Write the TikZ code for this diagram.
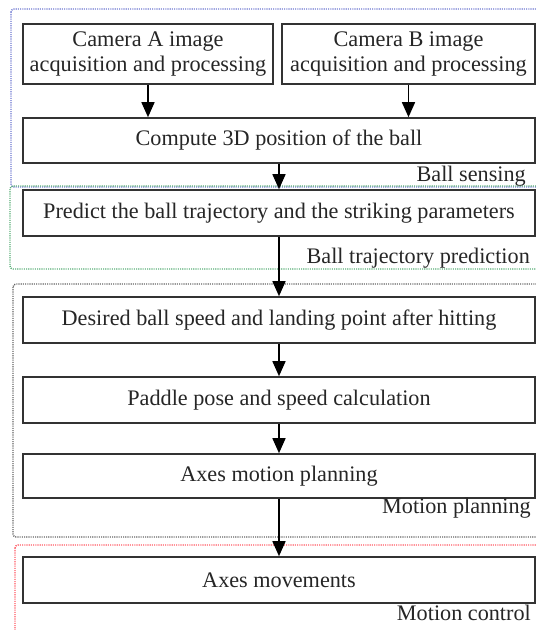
\documentclass[tikz,border=0pt]{standalone}
\usepackage{fontspec}
\setmainfont{Liberation Serif}
\usetikzlibrary{arrows.meta}
\definecolor{fblue}{RGB}{110,120,210}
\definecolor{fgreen}{RGB}{90,175,120}
\definecolor{fgray}{RGB}{100,100,100}
\definecolor{fred}{RGB}{255,90,100}
\begin{document}
\begin{tikzpicture}[x=1pt,y=-1pt,
  box/.style={draw=black!80,line width=1.6pt,fill=white,inner sep=0pt,align=center,
    font=\fontsize{22.2}{26}\selectfont,text=black!85},
  cam/.style={box,font=\fontsize{22.3}{25.5}\selectfont},
  arr/.style={draw=black,line width=1.5pt,-{Triangle[length=15pt,width=13pt]}},
  frame/.style={line width=1.4pt,dash pattern=on 1.1pt off 1.1pt,rounded corners=3pt},
  lbl/.style={anchor=base east,inner sep=0pt,font=\fontsize{22.2}{26}\selectfont,text=black!85}]
\useasboundingbox (0,0) rectangle (536,630);
\clip (0,0) rectangle (536,630);
\fill[white] (0,0) rectangle (536,630);
% frames
\draw[frame,fblue] (11,9) rectangle (560,187);
\draw[frame,fgreen] (10,186) rectangle (560,269);
\draw[frame,fgray] (13,284) rectangle (560,537);
\draw[frame,fred] (15,545) rectangle (560,660);
% boxes
\node[cam,minimum width=250,minimum height=60] (camA) at (148,54) {Camera A image\\acquisition and processing};
\node[cam,minimum width=253,minimum height=60] (camB) at (408.5,54) {Camera B image\\acquisition and processing};
\node[box,minimum width=512,minimum height=45] (comp) at (279,140.5) {Compute 3D position of the ball};
\node[box,minimum width=512,minimum height=46] (pred) at (279,213) {Predict the ball trajectory and the striking parameters};
\node[box,minimum width=512,minimum height=46] (des) at (279,320) {Desired ball speed and landing point after hitting};
\node[box,minimum width=512,minimum height=46] (pad) at (279,400) {Paddle pose and speed calculation};
\node[box,minimum width=512,minimum height=44] (axp) at (279,476) {Axes motion planning};
\node[box,minimum width=512,minimum height=46] (axm) at (279,580) {Axes movements};
% labels
\node[lbl] (l1) at (526,181) {Ball sensing};
\node[lbl] (l2) at (530,263) {Ball trajectory prediction};
\node[lbl] (l3) at (531,513) {Motion planning};
\node[lbl] (l4) at (531,620) {Motion control};
% arrows
\draw[arr] (camA.south) -- (camA.south |- comp.north);
\draw[arr] (camB.south) -- (camB.south |- comp.north);
\draw[arr] (comp.south) -- (pred.north);
\draw[arr] (pred.south) -- (des.north);
\draw[arr] (des.south) -- (pad.north);
\draw[arr] (pad.south) -- (axp.north);
\draw[arr] (axp.south) -- (axm.north);
\end{tikzpicture}
\end{document}
